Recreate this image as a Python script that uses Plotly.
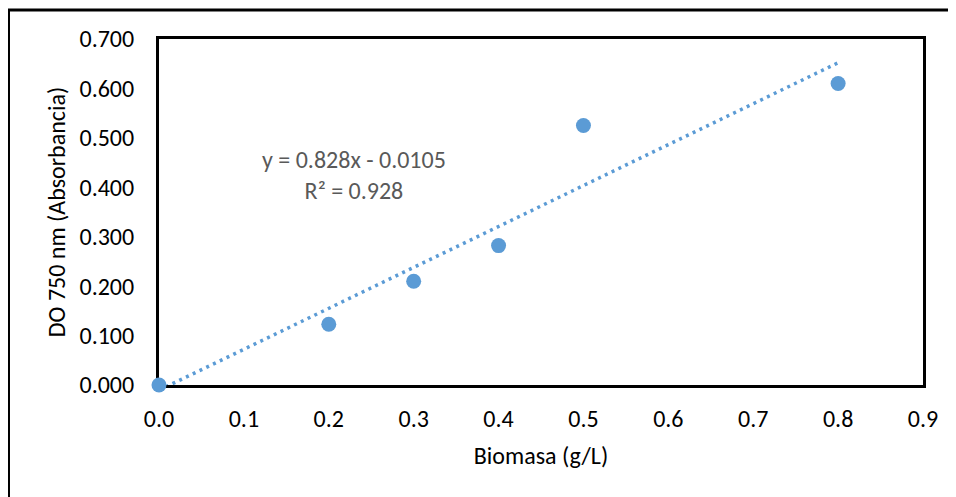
import plotly.graph_objects as go

# Datos
biomasa = [0.0, 0.2, 0.3, 0.4, 0.5, 0.8]
absorbancia = [0.000, 0.123, 0.210, 0.282, 0.525, 0.610]

# Línea de tendencia (de la ecuación mostrada)
pendiente = 0.828
intercepto = -0.0105
x_tendencia = [0.0, 0.8]
y_tendencia = [pendiente * x + intercepto for x in x_tendencia]

x_ticks = [0.0, 0.1, 0.2, 0.3, 0.4, 0.5, 0.6, 0.7, 0.8, 0.9]
y_ticks = [0.0, 0.1, 0.2, 0.3, 0.4, 0.5, 0.6, 0.7]

azul = '#5B9BD5'
fuente = 'Carlito, Calibri, Lato, sans-serif'
tam = 24

fig = go.Figure()

fig.add_trace(go.Scatter(
    x=x_tendencia, y=y_tendencia, mode='lines',
    line=dict(color=azul, width=3.5, dash='3px,4.5px'),
    hoverinfo='skip', showlegend=False,
))

fig.add_trace(go.Scatter(
    x=biomasa, y=absorbancia, mode='markers',
    marker=dict(color=azul, size=15),
    cliponaxis=False, showlegend=False,
))

fig.add_annotation(
    x=0.23, y=0.425, xref='x', yref='y',
    text='y = 0.828x - 0.0105<br>R² = 0.928',
    showarrow=False, align='center',
    font=dict(family=fuente, size=tam, color='#595959'),
)

# Borde exterior del gráfico
fig.add_shape(
    type='rect', xref='paper', yref='paper',
    x0=-0.197, x1=1.2, y0=-0.5, y1=1.0838,
    line=dict(color='black', width=3), layer='below',
)

fig.update_xaxes(
    range=[0, 0.9], tickvals=x_ticks, tickformat='.1f',
    showgrid=False, zeroline=False, layer='below traces',
    showline=True, linecolor='black', linewidth=3, mirror=True,
    ticks='', ticklabelstandoff=10,
    tickfont=dict(family=fuente, size=tam, color='black'),
    title=dict(text='Biomasa (g/L)', standoff=16,
               font=dict(family=fuente, size=tam, color='black')),
)
fig.update_yaxes(
    range=[0, 0.7], tickvals=y_ticks, tickformat='.3f',
    showgrid=False, zeroline=False, layer='below traces',
    showline=True, linecolor='black', linewidth=3, mirror=True,
    ticks='', ticklabelstandoff=17,
    tickfont=dict(family=fuente, size=tam, color='black'),
    title=dict(text='DO 750 nm (Absorbancia)', standoff=8,
               font=dict(family=fuente, size=tam, color='black')),
)

# la página deja 8px de margen, así que se compensa aquí
fig.update_layout(
    width=948, height=489,
    margin=dict(l=151, r=33, t=31, b=112),
    plot_bgcolor='white', paper_bgcolor='white',
)

fig.write_html('out.html')
